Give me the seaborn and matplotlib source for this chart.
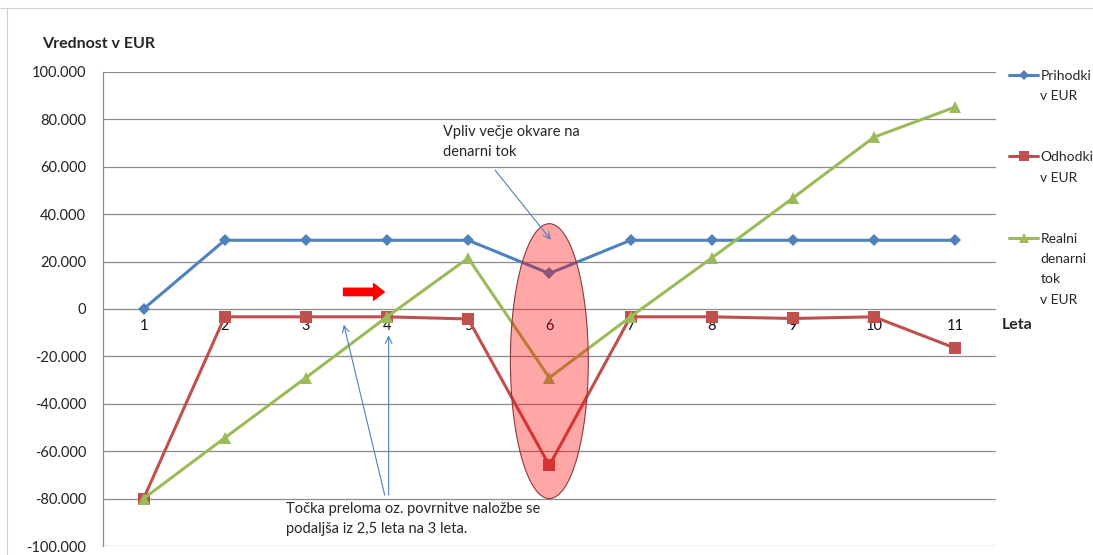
import numpy as np
import pandas as pd
import matplotlib.pyplot as plt
import seaborn as sns
from matplotlib.patches import Ellipse, FancyArrowPatch
from matplotlib.lines import Line2D

# Data
leta = [1, 2, 3, 4, 5, 6, 7, 8, 9, 10, 11]
prihodki = [0, 29000, 29000, 29000, 29000, 15000, 29000, 29000, 29000, 29000, 29000]
odhodki = [-80000, -3300, -3300, -3300, -4200, -66000, -3300, -3300, -4000, -3300, -16500]
realni = [-80000, -54400, -29000, -3300, 21500, -29000, -3300, 21500, 46800, 72500, 85200]
y_ticks = list(range(-100000, 100001, 20000))

series_names = ["Prihodki\nv EUR", "Odhodki\nv EUR", "Realni\ndenarni\ntok\nv EUR"]
colors = ["#4F81BD", "#C0504D", "#9BBB59"]
markers = ["D", "s", "^"]
msizes = [6, 8, 8.5]

sns.set_theme(style="white")
plt.rcParams['font.family'] = ['Lato', 'DejaVu Sans']

fig = plt.figure(figsize=(10.93, 5.55), dpi=100)
ax = fig.add_axes([0.0942, 0.0162, 0.8168, 0.8541])

for vals, c, m, ms in zip([prihodki, odhodki, realni], colors, markers, msizes):
    sns.lineplot(x=leta, y=vals, color=c, marker=m, markersize=ms,
                 markeredgewidth=0, linewidth=2.2, ax=ax, zorder=3)

ax.set_xlim(0.5, 11.5)
ax.set_ylim(-100000, 100000)
ax.set_yticks(y_ticks)
ax.set_yticklabels([f"{v:,.0f}".replace(",", ".") for v in y_ticks], fontsize=10.5)
ax.set_xticks([])
ax.tick_params(axis='y', length=0, pad=12, colors='#222222')
ax.grid(axis='y', color='#8c8c8c', linewidth=0.9)
ax.set_axisbelow(True)
for s in ['top', 'right', 'bottom']:
    ax.spines[s].set_visible(False)
ax.spines['left'].set_color('#8c8c8c')
ax.spines['left'].set_linewidth(0.9)

# category labels sit on the zero line
for x in leta:
    ax.text(x, -7200, str(x), ha='center', va='center', fontsize=10.5, color='#111111', zorder=2)

# highlight of the year with the breakdown
ax.add_patch(Ellipse((6, -22000), 0.96, 116000, facecolor=(1, 0, 0, 0.35),
                     edgecolor='#8B3A3A', linewidth=0.8, zorder=4))

# red arrow
ax.add_patch(FancyArrowPatch((3.43, 7200), (4.0, 7200),
                             arrowstyle='simple,head_length=0.55,head_width=0.85,tail_width=0.38',
                             mutation_scale=14, color='red', zorder=5))

# callouts
ax.text(4.69, 77600, "Vpliv večje okvare na\ndenarni tok", fontsize=10.5,
        va='top', ha='left', linespacing=1.55, zorder=6)
ax.annotate("", xy=(6.04, 28300), xytext=(5.31, 59500),
            arrowprops=dict(arrowstyle='->', color='#4F81BD', lw=0.8), zorder=6)

ax.text(2.76, -81500, "Točka preloma oz. povrnitve naložbe se\npodaljša iz 2,5 leta na 3 leta.",
        fontsize=10.5, va='top', ha='left', linespacing=1.5, zorder=6)
ax.annotate("", xy=(3.46, -5500), xytext=(3.98, -79700),
            arrowprops=dict(arrowstyle='->', color='#4F81BD', lw=0.8), zorder=6)
ax.annotate("", xy=(4.02, -10000), xytext=(4.02, -79700),
            arrowprops=dict(arrowstyle='->', color='#4F81BD', lw=0.8), zorder=6)

# titles
fig.text(42 / 1093, 1 - 44 / 555, "Vrednost v EUR", fontsize=11.5, fontweight='bold',
         ha='left', va='center')
fig.text(1002 / 1093, 1 - 325 / 555, "Leta", fontsize=11.5, fontweight='bold',
         ha='left', va='center')

# legend: one row per text line so the marker sits on the first line
blank = Line2D([], [], linestyle='none')
handles, labels = [], []
for i, (name, c, m, ms) in enumerate(zip(series_names, colors, markers, msizes)):
    parts = name.split("\n")
    handles.append(Line2D([], [], color=c, marker=m, markersize=ms * 0.85,
                          markeredgewidth=0, linewidth=2.2))
    labels.append(parts[0])
    for p in parts[1:]:
        handles.append(blank)
        labels.append(p)
    if i < len(series_names) - 1:
        handles += [blank, blank]
        labels += [" ", " "]
fig.legend(handles, labels, loc='upper left', bbox_to_anchor=(1009 / 1093, 1 - 70 / 555),
           frameon=False, fontsize=10, labelspacing=0.6, handlelength=2.1,
           handletextpad=0.15, borderaxespad=0, borderpad=0)

# faint sheet borders
fig.add_artist(Line2D([0, 1], [1 - 8 / 555, 1 - 8 / 555], color='#d0d0d0', lw=0.8))
fig.add_artist(Line2D([7 / 1093, 7 / 1093], [0, 1 - 8 / 555], color='#d0d0d0', lw=0.8))

plt.savefig("out.png", dpi=100)
plt.close()
